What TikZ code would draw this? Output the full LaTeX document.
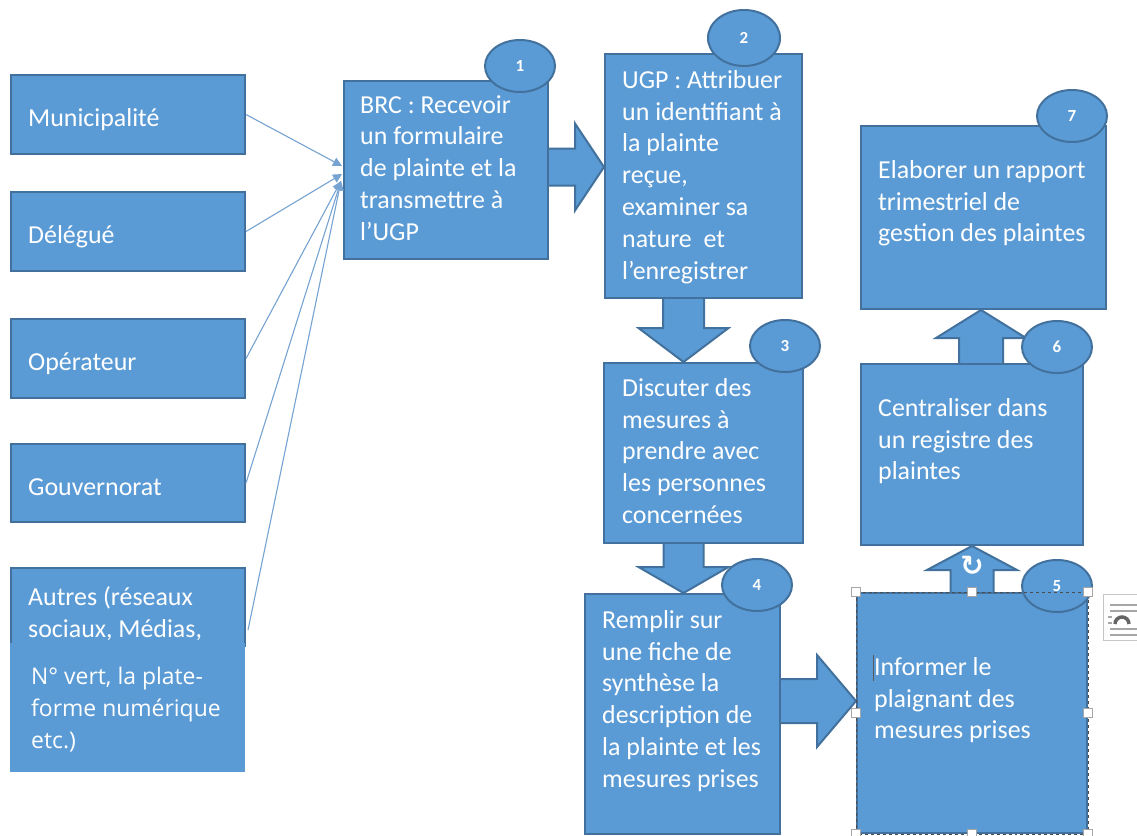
\documentclass[tikz,border=0pt]{standalone}
\usepackage{fontspec}
\setmainfont{Carlito}
\newfontfamily\opensans{Open Sans}
\newfontfamily\dejavu{DejaVu Sans}
\usepackage{tikz}
\usetikzlibrary{arrows.meta,calc,shapes.geometric,backgrounds}
\definecolor{boxblue}{HTML}{5B9BD5}
\definecolor{boxline}{HTML}{41719C}
\definecolor{feedblue}{HTML}{76A3D2}
\tikzset{
  stage/.style ={draw=boxline,fill=boxblue,line width=2bp,inner sep=0pt,anchor=north west},
  patch/.style ={fill=boxblue,inner sep=0pt,anchor=north west},
  txt/.style   ={text=white,align=left,inner sep=0pt,anchor=north west,
                 font=\fontsize{26}{32}\selectfont,execute at begin node=\strut},
  num/.style   ={ellipse,draw=boxline,fill=boxblue,line width=2bp,minimum width=70bp,
                 minimum height=52bp,inner sep=0pt,text=white,font=\bfseries\fontsize{17}{19}\selectfont},
  fat/.style   ={draw=boxline,fill=boxblue,line width=2bp,line join=miter},
  feed/.style  ={feedblue,line width=1.1bp,-{Triangle[length=9bp,width=9bp]}},
  handle/.style={draw=gray!70,fill=white,line width=0.6bp,minimum size=9bp,inner sep=0pt},
}
% block arrow: tail, tip, shaft half width, head half width, head length
\newcommand\fatarrow[5]{%
  \coordinate (fa) at ($(#2)!#5!(#1)$);
  \draw[fat] ($(#1)!#3!90:(#2)$) -- ($(fa)!#3!90:(#2)$) -- ($(fa)!#4!90:(#2)$) -- (#2)
    -- ($(fa)!#4!-90:(#2)$) -- ($(fa)!#3!-90:(#2)$) -- ($(#1)!#3!-90:(#2)$) -- cycle;}

\begin{document}
\begin{tikzpicture}[x=1bp,y=-1bp]
  \useasboundingbox (0,0) rectangle (1137,836);
  % LEFT: where the complaints come from
  \node[stage,minimum width=234bp,minimum height=79bp] (mun) at (10,74) {};
  \node[stage,minimum width=234bp,minimum height=79bp] (del) at (10,191) {};
  \node[stage,minimum width=234bp,minimum height=79bp] (ope) at (10,318) {};
  \node[stage,minimum width=234bp,minimum height=78bp] (gou) at (10,443) {};
  \node[stage,minimum width=234bp,minimum height=78bp] (aut) at (10,567) {};
  \node[patch,minimum width=235bp,minimum height=129bp] (autb) at (10,643) {};
  \node[txt] (tmun) at (28,104) {Municipalité};
  \node[txt] (tdel) at (28,221) {Délégué};
  \node[txt] (tope) at (28,348) {Opérateur};
  \node[txt] (tgou) at (28,473) {Gouvernorat};
  \node[txt] (taut) at (28,586) {Autres (réseaux\\sociaux, Médias,};
  \node[txt,font=\opensans\fontsize{23}{32}\selectfont] (tautb) at (31,667)
    {N° vert, la plate-\\forme numérique\\etc.)};

  % RIGHT: the seven steps
  \node[stage,minimum width=204bp,minimum height=178bp] (b1) at (343,80) {};
  \node[stage,minimum width=197bp,minimum height=244bp] (b2) at (604,53) {};
  \node[stage,minimum width=199bp,minimum height=180bp] (b3) at (603,362) {};
  \node[stage,minimum width=195bp,minimum height=240bp] (b4) at (584,593) {};
  \node[stage,minimum width=230bp,minimum height=240bp] (b5) at (856,592) {};
  \node[stage,minimum width=222bp,minimum height=181bp] (b6) at (860,363) {};
  \node[stage,minimum width=245bp,minimum height=183bp] (b7) at (860,125) {};
  \node[txt] (t1) at (360,95) {BRC : Recevoir\\un formulaire\\de plainte et la\\transmettre à\\l’UGP};
  \node[txt] (t2) at (622,70) {UGP : Attribuer\\un identifiant à\\la plainte\\reçue,\\examiner sa\\nature~ et\\l’enregistrer};
  \node[txt] (t3) at (622,378) {Discuter des\\mesures à\\prendre avec\\les personnes\\concernées};
  \node[txt] (t4) at (602,610) {Remplir sur\\une fiche de\\synthèse la\\description de\\la plainte et les\\mesures prises};
  \node[txt] (t5) at (874,657) {Informer le\\plaignant des\\mesures prises};
  \node[txt] (t6) at (878,398) {Centraliser dans\\un registre des\\plaintes};
  \node[txt] (t7) at (878,160) {Elaborer un rapport\\trimestriel de\\gestion des plaintes};

  % block arrows behind the boxes
  \begin{scope}[on background layer]
    \fill[white] (0,0) rectangle (1137,836);
    \coordinate (t12) at ($(b1.east)+(-6,-3)$);
    \coordinate (h12) at ($(b1.east -| b2.west)+(0,-3)$);
    \fatarrow{t12}{h12}{18.5bp}{43.5bp}{29bp}
    \coordinate (t23) at ($(b2.south)+(-20,-6)$);
    \coordinate (h23) at ($(b2.south |- b3.north)+(-20,0)$);
    \fatarrow{t23}{h23}{20.5bp}{45bp}{34bp}
    \coordinate (t34) at ($(b3.south)+(-20,-6)$);
    \coordinate (h34) at ($(b3.south |- b4.north)+(-20,0)$);
    \fatarrow{t34}{h34}{20bp}{45bp}{26bp}
    \coordinate (t45) at ($(b4.east)+(-6,-13)$);
    \coordinate (h45) at ($(b4.east -| b5.west)+(0,-13)$);
    \fatarrow{t45}{h45}{22bp}{46bp}{39bp}
    \coordinate (t56) at ($(b5.north)+(0,6)$);
    \coordinate (h56) at (b5.north |- b6.south);
    \fatarrow{t56}{h56}{21.5bp}{45bp}{24bp}
    \coordinate (t67) at ($(b6.north)+(9,6)$);
    \coordinate (h67) at ($(b6.north |- b7.south)+(9,0)$);
    \fatarrow{t67}{h67}{22bp}{45bp}{28bp}
  \end{scope}

  % step numbers
  \node[num] (n1) at (520,66) {1};
  \node[num,minimum width=72bp,minimum height=56bp] (n2) at (744,38) {2};
  \node[num] (n3) at (785,346) {3};
  \node[num] (n4) at (757,585) {4};
  \node[num] (n5) at (1057,586) {5};
  \node[num] (n6) at (1057,347) {6};
  \node[num] (n7) at (1072,116) {7};

  % sources feed step 1
  \coordinate (in1) at ($(b1.west)+(-1,-4)$);
  \coordinate (in2) at ($(b1.west)+(-1,4)$);
  \coordinate (in3) at ($(b1.west)+(-2,11)$);
  \draw[feed] (mun.east) -- (in1);
  \draw[feed] (del.east) -- (in2);
  \foreach \s in {ope,gou}
    \draw[feed] (\s.east) -- (in3);
  \draw[feed] ($(aut.east)+(2,23)$) -- (in3);

  % selection of step 5
  \draw[gray!60!black,dashed,line width=0.6bp] (b5.north west) rectangle (b5.south east);
  \foreach \a [count=\i] in {north west,north,north east,west,east,south west,south,south east}
    \node[handle] (hd\i) at (b5.\a) {};
  \node[font=\dejavu\bfseries\fontsize{28}{28}\selectfont,text=white] (rot) at (972,566) {↻};
  \draw[gray!70!black,line width=0.8bp] (873,655) -- (873,681);
  \node[draw=gray!45,fill=white,line width=1bp,anchor=north west,minimum width=44bp,
        minimum height=46bp,inner sep=0pt] (lay) at (1103,594) {};
  \foreach \yy in {605,611,629,635}
    \draw[gray!70,line width=1.2bp] (1110,\yy) -- (1140,\yy);
  \draw[gray!70,line width=1.2bp] (1108,617) -- (1112,617) (1108,623) -- (1112,623);
  \draw[gray!80!black,line width=3.5bp] (1115,624) arc[start angle=180,end angle=360,radius=7];
\end{tikzpicture}
\end{document}
